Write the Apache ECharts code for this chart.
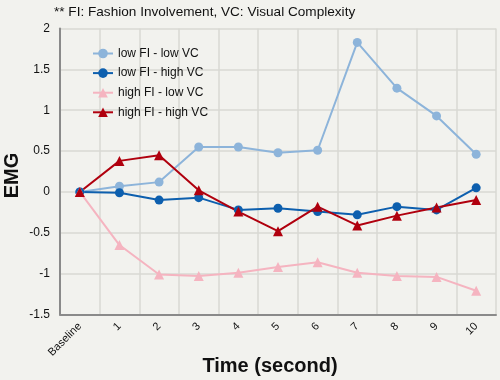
<!DOCTYPE html>
<html><head><meta charset="utf-8">
<script src="https://cdn.jsdelivr.net/npm/echarts@6/dist/echarts.min.js"></script>
<style>html,body{margin:0;padding:0;background:#f2f2ee;}#c{width:500px;height:380px;}</style>
</head><body><div id="c"></div>
<script>
const categories = ['Baseline','1','2','3','4','5','6','7','8','9','10'];
const lowFI_lowVC = [0, 0.07, 0.12, 0.55, 0.55, 0.48, 0.51, 1.83, 1.27, 0.93, 0.46];
const lowFI_highVC = [0, -0.01, -0.10, -0.07, -0.22, -0.20, -0.24, -0.28, -0.18, -0.22, 0.05];
const highFI_lowVC = [0, -0.65, -1.01, -1.03, -0.99, -0.92, -0.86, -0.99, -1.03, -1.04, -1.21];
const highFI_highVC = [0, 0.38, 0.45, 0.02, -0.24, -0.48, -0.18, -0.41, -0.29, -0.19, -0.10];
const seriesNames = ['low FI - low VC','low FI - high VC','high FI - low VC','high FI - high VC'];

const chart = echarts.init(document.getElementById('c'));
const font = 'Liberation Sans, Arial, sans-serif';
function mk(name, data, color, symbol, size){
  return {name, type:'line', data, symbol, symbolSize:size, color,
    lineStyle:{width:2,color}, itemStyle:{color}, z: 3};
}
chart.setOption({
  backgroundColor:'#f2f2ee',
  animation:false,
  textStyle:{fontFamily:font},
  title:{text:'** FI: Fashion Involvement, VC: Visual Complexity', left:49, top:0,
    textStyle:{fontSize:13.6, fontWeight:'normal', color:'#111', fontFamily:font}},
  legend:{orient:'vertical', left:87, top:42.5, itemGap:7.6, itemWidth:20, itemHeight:12,
    textStyle:{fontSize:12, color:'#111', fontFamily:font}, data:seriesNames},
  grid:{left:60, right:4, top:28.5, bottom:65.5, containLabel:false, outerBoundsMode:'none'},
  xAxis:{type:'category', data:categories, boundaryGap:true,
    name:'Time (second)', nameLocation:'middle', nameGap:42, nameMoveOverlap:false,
    nameTextStyle:{fontSize:20, fontWeight:'bold', color:'#111', fontFamily:font, padding:[0,16,0,0]},
    axisLine:{onZero:false, lineStyle:{color:'#8a8a8a', width:2}},
    axisTick:{show:false},
    axisLabel:{rotate:45, fontSize:11, color:'#111', margin:10, interval:0},
    splitLine:{show:true, interval:0, lineStyle:{color:'#d9d9d3', width:1.5}}},
  yAxis:{type:'value', min:-1.5, max:2, interval:0.5,
    name:'EMG', nameLocation:'middle', nameGap:38, nameRotate:90, nameMoveOverlap:false,
    nameTextStyle:{fontSize:20, fontWeight:'bold', color:'#111', fontFamily:font, padding:[0,8,0,0]},
    axisLine:{show:true, lineStyle:{color:'#8a8a8a', width:2}},
    axisTick:{show:false},
    axisLabel:{fontSize:12, color:'#111', margin:10},
    splitLine:{lineStyle:{color:'#d9d9d3', width:1.5}}},
  series:[
    mk(seriesNames[0], lowFI_lowVC, '#8db4da', 'circle', 9),
    mk(seriesNames[1], lowFI_highVC, '#0d5fae', 'circle', 9),
    mk(seriesNames[2], highFI_lowVC, '#f5b4c0', 'triangle', 10),
    mk(seriesNames[3], highFI_highVC, '#b0000e', 'triangle', 10)
  ]
});
</script></body></html>
